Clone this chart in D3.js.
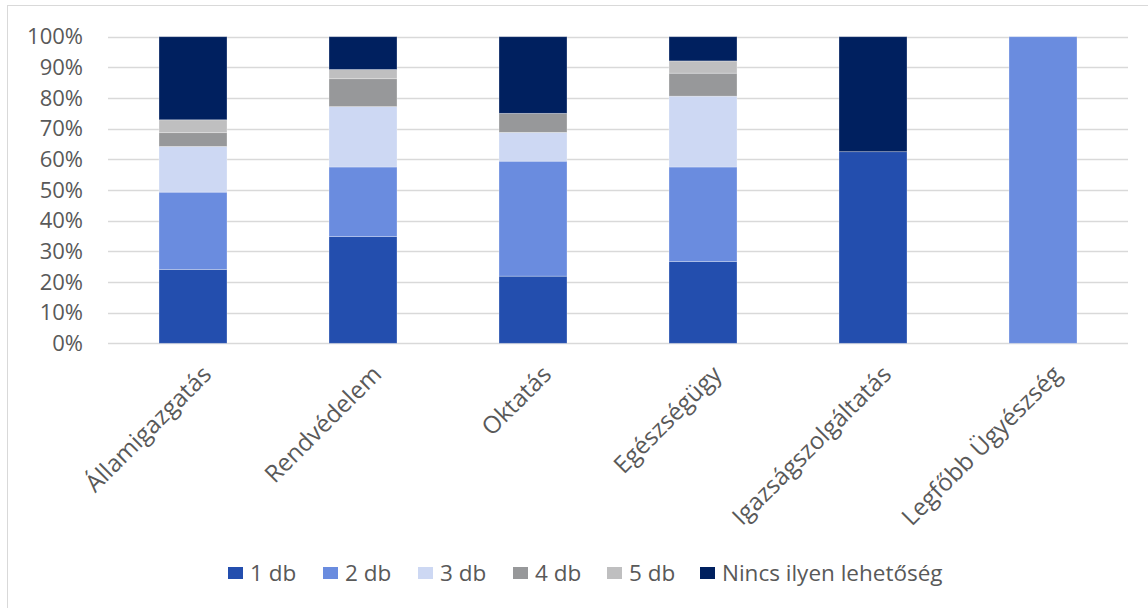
<!DOCTYPE html>
<html lang="hu">
<head>
<meta charset="utf-8">
<script src="https://d3js.org/d3.v7.min.js"></script>
<style>
  body { margin: 0; background: #fff; }
  text { font-family: "Open Sans", "Noto Sans", sans-serif; fill: #595959; }
</style>
</head>
<body>
<script>
var width = 1148;
var height = 608;

// categories and series (share of respondents, %)
var categories = ["Államigazgatás", "Rendvédelem", "Oktatás", "Egészségügy", "Igazságszolgáltatás", "Legfőbb Ügyészség"];
var seriesNames = ["1 db", "2 db", "3 db", "4 db", "5 db", "Nincs ilyen lehetőség"];
var db1   = [24.1, 34.8, 21.9, 26.7, 62.5, 0];
var db2   = [25.2, 22.7, 37.5, 30.8, 0, 100];
var db3   = [14.9, 19.7, 9.4, 23.1, 0, 0];
var db4   = [4.5, 9.1, 6.2, 7.5, 0, 0];
var db5   = [4.2, 3.0, 0, 4.0, 0, 0];
var nincs = [27.1, 10.7, 25.0, 7.9, 37.5, 0];
var yTicks = [0, 10, 20, 30, 40, 50, 60, 70, 80, 90, 100];

var colours = ["#234EAE", "#6A8CDF", "#CDD8F3", "#97989A", "#BFBFC0", "#00205F"];

var seriesValues = [db1, db2, db3, db4, db5, nincs];
var rows = categories.map(function(c, i) {
    var r = { cat: c };
    seriesNames.forEach(function(s, j) { r[s] = seriesValues[j][i]; });
    return r;
});

var svg = d3.select("body").append("svg")
    .attr("width", width)
    .attr("height", height);

// outer chart border
svg.append("rect")
    .attr("x", 7.5).attr("y", 5.5)
    .attr("width", width).attr("height", height)
    .attr("fill", "none")
    .attr("stroke", "#d9d9d9")
    .attr("stroke-width", 1);

var x = d3.scaleBand()
    .domain(categories)
    .range([108, 1128])
    .paddingInner(0.6)
    .paddingOuter(0.3);

var y = d3.scaleLinear()
    .domain([0, 100])
    .range([343.3, 36.7]);

// gridlines
svg.append("g")
    .selectAll("line")
    .data(yTicks)
    .join("line")
    .attr("x1", 108).attr("x2", 1128)
    .attr("y1", function(d) { return Math.round(y(d)) + 0.5; })
    .attr("y2", function(d) { return Math.round(y(d)) + 0.5; })
    .attr("stroke", "#d9d9d9")
    .attr("stroke-width", 1.3);

// y axis labels
var yAxis = d3.axisLeft(y)
    .tickValues(yTicks)
    .tickFormat(function(d) { return d + "%"; })
    .tickSize(0)
    .tickPadding(0);

var gy = svg.append("g")
    .attr("transform", "translate(83,0)")
    .call(yAxis);
gy.select(".domain").remove();
gy.selectAll("text")
    .attr("fill", "#595959")
    .style("font-size", "22px");

// stacked bars
var stack = d3.stack().keys(seriesNames);
var layers = stack(rows);

svg.append("g")
    .selectAll("g")
    .data(layers)
    .join("g")
    .attr("fill", function(d, i) { return colours[i]; })
    .selectAll("rect")
    .data(function(d) { return d; })
    .join("rect")
    .attr("x", function(d) { return x(d.data.cat); })
    .attr("width", x.bandwidth())
    .attr("y", function(d) { return y(d[1]); })
    .attr("height", function(d) { return y(d[0]) - y(d[1]); })
    .attr("stroke", "#ffffff")
    .attr("stroke-opacity", function(d) { return d[1] - d[0] > 0 ? 0.35 : 0; })
    .attr("stroke-width", 0.8);

// category labels
var xAxis = d3.axisBottom(x).tickSize(0).tickPadding(0);
var gx = svg.append("g")
    .attr("transform", "translate(0,350)")
    .call(xAxis);
gx.select(".domain").remove();
gx.selectAll("text")
    .attr("fill", "#595959")
    .style("font-size", "24px")
    .attr("text-anchor", "end")
    .attr("dy", "0.7em")
    .attr("transform", "translate(8,14) rotate(-45)");

// legend
var legendX = [228, 323, 418, 513, 607, 700];
var legend = svg.append("g")
    .selectAll("g")
    .data(seriesNames)
    .join("g")
    .attr("transform", function(d, i) { return "translate(" + legendX[i] + ",567)"; });

legend.append("rect")
    .attr("width", 15).attr("height", 12)
    .attr("fill", function(d, i) { return colours[i]; });

legend.append("text")
    .attr("x", 22)
    .attr("y", 6)
    .attr("dy", "0.35em")
    .style("font-size", "22.5px")
    .text(function(d) { return d; });
</script>
</body>
</html>
